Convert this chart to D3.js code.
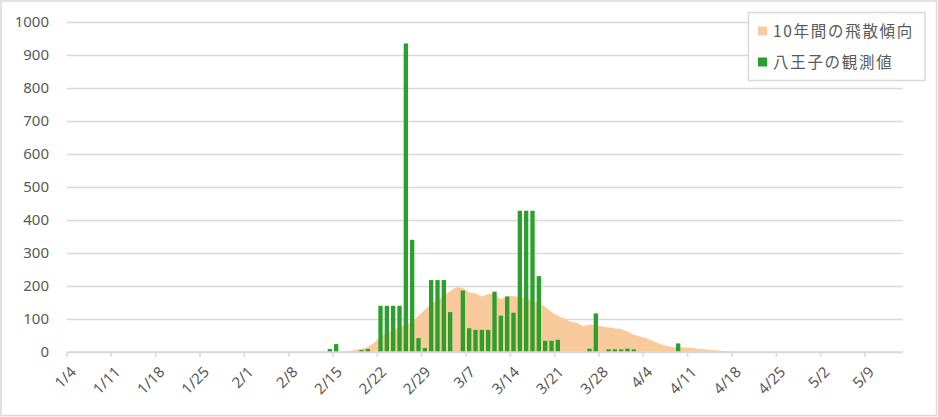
<!DOCTYPE html>
<html>
<head>
<meta charset="utf-8">
<script src="https://cdn.jsdelivr.net/npm/d3@7"></script>
<style>
  html, body { margin: 0; padding: 0; background: #fff; }
  svg { display: block; }
  text { font-family: "Noto Sans CJK JP", "Noto Sans", sans-serif; fill: #595959; }
</style>
</head>
<body>
<svg id="chart" width="938" height="417"></svg>
<script>
// ---- data ----
const firstDay = "2020-01-04";
const lastDay = "2020-05-14";
const tickLabels = ["1/4","1/11","1/18","1/25","2/1","2/8","2/15","2/22","2/29","3/7","3/14","3/21","3/28","4/4","4/11","4/18","4/25","5/2","5/9"];
const yTicks = [0,100,200,300,400,500,600,700,800,900,1000];

const trendDates = ["2/16","2/17","2/18","2/19","2/20","2/21","2/22","2/23","2/24","2/25","2/26","2/27","2/28","2/29",
  "3/1","3/2","3/3","3/4","3/5","3/6","3/7","3/8","3/9","3/10","3/11","3/12","3/13","3/14","3/15","3/16","3/17","3/18","3/19","3/20",
  "3/21","3/22","3/23","3/24","3/25","3/26","3/27","3/28","3/29","3/30","3/31","4/1","4/2","4/3","4/4","4/5","4/6","4/7","4/8","4/9",
  "4/10","4/11","4/12","4/13","4/14","4/15","4/16","4/17","4/18"];
const trendValues = [0,3,6,10,15,28,48,60,67,76,83,92,110,128,
  145,158,170,185,196,195,180,178,168,176,176,160,170,169,166,162,156,149,137,121,
  110,102,92,89,78,83,81,78,74,72,69,62,52,47,42,33,25,19,15,14,
  14,13,10,8,7,5,3,2,0];

const obsDates = ["2/14","2/15","2/19","2/20","2/22","2/23","2/24","2/25","2/26","2/27","2/28","2/29",
  "3/1","3/2","3/3","3/4","3/6","3/7","3/8","3/9","3/10","3/11","3/12","3/13","3/14","3/15","3/16","3/17","3/18","3/19","3/20",
  "3/21","3/26","3/27","3/29","3/30","3/31","4/1","4/2","4/9"];
const obsValues = [9,24,6,9,140,140,140,140,935,340,42,12,
  218,218,218,121,186,72,67,67,67,183,110,168,119,428,428,428,230,34,34,
  37,10,117,8,8,8,10,8,26];

const legendLabels = ["10年間の飛散傾向","八王子の観測値"];
const colors = ["#F9CB9C","#2CA02C"];

// ---- build categories ----
const fmt = d3.timeFormat("%-m/%-d");
const parse = d3.timeParse("%Y-%m-%d");
const categories = d3.timeDay.range(parse(firstDay), d3.timeDay.offset(parse(lastDay), 1)).map(fmt);

const svg = d3.select("#chart");
const W = 938, H = 417;
const plot = {left: 67, right: 903, top: 22, bottom: 352};

// border
svg.append("rect").attr("x", 1).attr("y", 1).attr("width", W - 2.5).attr("height", H - 2.5)
  .attr("fill", "#fff").attr("stroke", "#d9d9d9").attr("stroke-width", 1.5);

const x = d3.scaleBand().domain(categories).range([plot.left, plot.right]).paddingInner(0.32).paddingOuter(0.16);
const y = d3.scaleLinear().domain([0, 1000]).range([plot.bottom, plot.top]);
const step = x.step();
const cx = d => x(d) + x.bandwidth() / 2;

// gridlines + y labels
const yAxis = svg.append("g").attr("transform", `translate(${plot.left},0)`)
  .call(d3.axisLeft(y).tickValues(yTicks).tickSize(-(plot.right - plot.left)).tickPadding(18).tickFormat(d3.format("d")));
yAxis.select(".domain").remove();
yAxis.selectAll(".tick line").attr("stroke", "#d9d9d9").attr("stroke-width", 1.5);
yAxis.selectAll(".tick text").attr("font-size", 15).style("fill", "#595959")
  .style("font-family", "'Noto Sans', sans-serif");

// area
const area = d3.area()
  .x((d, i) => cx(trendDates[i]))
  .y0(y(0))
  .y1(d => y(d));
svg.append("path").datum(trendValues).attr("d", area).attr("fill", colors[0]);

// bars
svg.append("g").selectAll("rect").data(obsValues).join("rect")
  .attr("x", (d, i) => x(obsDates[i]))
  .attr("width", x.bandwidth())
  .attr("y", d => y(d))
  .attr("height", d => y(0) - y(d))
  .attr("fill", colors[1]);

// x axis
const xAxis = svg.append("g").attr("transform", `translate(${-step / 2},${plot.bottom})`)
  .call(d3.axisBottom(x).tickValues(tickLabels).tickSize(5).tickFormat(d => d));
xAxis.select(".domain").remove();
xAxis.selectAll(".tick line").attr("stroke", "#d9d9d9").attr("stroke-width", 1.5);
xAxis.selectAll(".tick text")
  .attr("font-size", 15).style("fill", "#595959")
  .style("font-family", "'Noto Sans', sans-serif")
  .attr("text-anchor", "end")
  .attr("dy", 0).attr("y", 0)
  .attr("transform", "translate(10,21) rotate(-45)");
svg.append("line").attr("x1", plot.left).attr("x2", plot.right)
  .attr("y1", plot.bottom).attr("y2", plot.bottom)
  .attr("stroke", "#d9d9d9").attr("stroke-width", 1.5);

// legend
const lg = svg.append("g");
lg.append("rect").attr("x", 748.5).attr("y", 12.5).attr("width", 176.5).attr("height", 68)
  .attr("fill", "#fff").attr("stroke", "#d9d9d9").attr("stroke-width", 1.5);
legendLabels.forEach((t, i) => {
  const yy = 31 + i * 31;
  lg.append("rect").attr("x", 758).attr("y", yy - 4.5).attr("width", 9).attr("height", 9).attr("fill", colors[i]);
  lg.append("text").attr("x", 773).attr("y", yy).attr("dy", "0.36em")
    .attr("font-size", 15.5).attr("letter-spacing", 1.7).text(t);
});
</script>
</body>
</html>
